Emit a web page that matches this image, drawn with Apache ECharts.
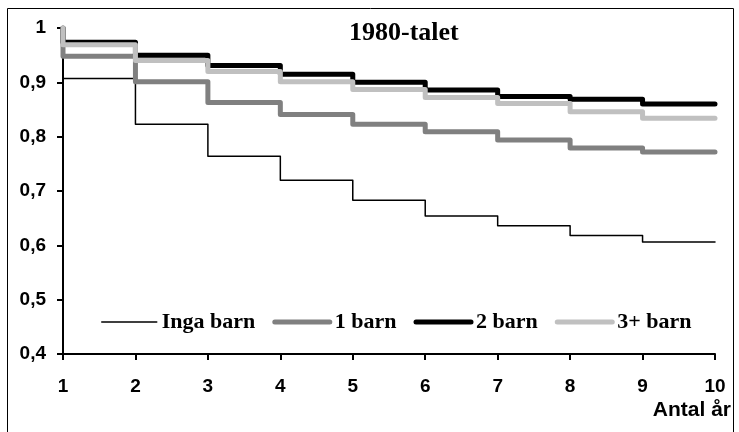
<!DOCTYPE html>
<html>
<head>
<meta charset="utf-8">
<script src="https://cdn.jsdelivr.net/npm/echarts@6/dist/echarts.min.js"></script>
<style>
html,body{margin:0;padding:0;background:#fff;}
#chart{width:739px;height:432px;}
</style>
</head>
<body>
<div id="chart"></div>
<script>
// Data (step curves: each value holds from its year until the next year)
var years     = [1, 1, 2, 3, 4, 5, 6, 7, 8, 9, 10];
var ingaBarn  = [1, 0.907, 0.823, 0.764, 0.720, 0.683, 0.654, 0.636, 0.618, 0.606, 0.606];
var ettBarn   = [1, 0.948, 0.901, 0.863, 0.841, 0.823, 0.809, 0.794, 0.779, 0.772, 0.772];
var tvaBarn   = [1, 0.974, 0.950, 0.931, 0.915, 0.900, 0.886, 0.874, 0.869, 0.860, 0.860];
var treBarn   = [1, 0.969, 0.940, 0.920, 0.901, 0.887, 0.872, 0.861, 0.846, 0.834, 0.834];
var seriesNames = ['Inga barn', '1 barn', '2 barn', '3+ barn'];
var titleText = '1980-talet';
var xAxisName = 'Antal år';

function pairs(vals){ return years.map(function(x,i){ return [x, vals[i]]; }); }

var chart = echarts.init(document.getElementById('chart'));
var sansFont = '"Liberation Sans", Arial, sans-serif';
var serifFont = '"Liberation Serif", "Times New Roman", serif';

function mk(name, vals, color, width){
  return {
    name: name, type: 'line', step: 'end', data: pairs(vals),
    symbol: 'none', showSymbol: false, animation: false,
    lineStyle: { color: color, width: width, cap: 'round', join: 'round' },
    itemStyle: { color: color }
  };
}

chart.setOption({
  animation: false,
  backgroundColor: '#ffffff',
  title: {
    text: titleText, left: 349, top: 20, padding: 0,
    textStyle: { fontFamily: serifFont, fontWeight: 'bold', fontSize: 26, color: '#000' }
  },
  grid: { left: 63, right: 24, top: 28, bottom: 78, containLabel: false },
  legend: {
    data: seriesNames, left: 96, top: 306, itemWidth: 55, itemHeight: 14, itemGap: 17,
    itemStyle: { opacity: 0 },
    lineStyle: { width: 'inherit', cap: 'round' },
    textStyle: { fontFamily: serifFont, fontWeight: 'bold', fontSize: 22, color: '#000' }
  },
  xAxis: {
    type: 'value', min: 1, max: 10, interval: 1,
    axisLine: { show: true, lineStyle: { color: '#000', width: 2 } },
    axisTick: { show: true, length: 6, lineStyle: { color: '#000', width: 2 } },
    axisLabel: { margin: 23, fontFamily: sansFont, fontWeight: 'bold', fontSize: 19, color: '#000' },
    splitLine: { show: false }
  },
  yAxis: {
    type: 'value', min: 0.4, max: 1, interval: 0.1,
    axisLine: { show: true, lineStyle: { color: '#000', width: 2 } },
    axisTick: { show: true, length: 6, lineStyle: { color: '#000', width: 2 } },
    axisLabel: {
      margin: 17, fontFamily: sansFont, fontWeight: 'bold', fontSize: 19, color: '#000',
      formatter: function(v){ return String(Math.round(v*10)/10).replace('.', ','); }
    },
    splitLine: { show: false }
  },
  series: [
    mk(seriesNames[0], ingaBarn, '#000000', 1.5),
    mk(seriesNames[1], ettBarn, '#808080', 5),
    mk(seriesNames[2], tvaBarn, '#000000', 5),
    mk(seriesNames[3], treBarn, '#c0c0c0', 5)
  ],
  graphic: [
    { type: 'rect', shape: { x: 7.5, y: 8.5, width: 726, height: 440 },
      style: { fill: null, stroke: '#000', lineWidth: 1 }, silent: true },
    { type: 'text', x: 731, y: 410,
      style: { text: xAxisName, textAlign: 'right', textVerticalAlign: 'middle',
               font: 'bold 21px ' + sansFont, fill: '#000' } }
  ]
});
</script>
</body>
</html>
